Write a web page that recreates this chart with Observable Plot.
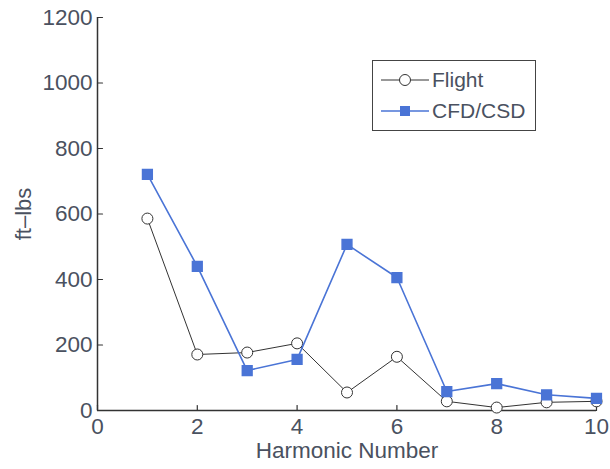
<!DOCTYPE html>
<html>
<head>
<meta charset="utf-8">
<script src="https://cdn.jsdelivr.net/npm/d3@7"></script>
<script src="https://cdn.jsdelivr.net/npm/@observablehq/plot@0.6"></script>
<style>
  body { margin: 0; background: #fff; }
  #wrap { position: relative; width: 610px; height: 469px; font-family: "Liberation Sans", Arial, sans-serif; }
  #legend { position: absolute; left: 372px; top: 60px; width: 164px; height: 71px; border: 1.3px solid #444; background: #fff; box-sizing: border-box; }
  .row { position: absolute; left: 8px; display: flex; align-items: center; font-size: 21px; color: #4a5160; }
  .row svg { margin-right: 3px; }
</style>
</head>
<body>
<div id="wrap"></div>
<script>
const harmonics = [1, 2, 3, 4, 5, 6, 7, 8, 9, 10];
const flight = [586, 171, 177, 205, 55, 164, 28, 9, 25, 28];
const cfd = [721, 440, 122, 156, 507, 406, 58, 82, 48, 37];
const xTicks = [0, 2, 4, 6, 8, 10];
const yTicks = [0, 200, 400, 600, 800, 1000, 1200];

const flightData = harmonics.map((h, i) => ({h, v: flight[i]}));
const cfdData = harmonics.map((h, i) => ({h, v: cfd[i]}));

const textColor = "#4a5160";
const blue = "#4a74d6";
const tickShape = {draw(context, l) { context.moveTo(0, 0); context.lineTo(0, -l); }};

const chart = Plot.plot({
  width: 610,
  height: 469,
  marginLeft: 97,
  marginRight: 14,
  marginTop: 17,
  marginBottom: 59,
  style: {fontFamily: "Liberation Sans, Arial, sans-serif", fontSize: "22px", color: textColor, background: "#fff"},
  x: {domain: [0, 10]},
  y: {domain: [0, 1200]},
  marks: [
    Plot.axisX({ticks: xTicks, tickSize: 0, tickPadding: 8, tickFormat: d => String(d), fill: textColor, label: null, fontSize: 22.5}),
    Plot.axisY({ticks: yTicks, tickSize: 0, tickPadding: 5, tickFormat: d => String(d), fill: textColor, label: null, fontSize: 22.5}),
    Plot.vector(xTicks, {x: d => d, y: 0, length: 5, anchor: "start", rotate: 0, shape: tickShape, stroke: "#333", strokeWidth: 1.2}),
    Plot.vector(yTicks, {x: 0, y: d => d, length: 5, anchor: "start", rotate: 90, shape: tickShape, stroke: "#333", strokeWidth: 1.2}),
    Plot.ruleY([0], {stroke: "#333", strokeWidth: 1.5}),
    Plot.ruleX([0], {stroke: "#333", strokeWidth: 1.5}),
    Plot.line(flightData, {x: "h", y: "v", stroke: "#333", strokeWidth: 1}),
    Plot.dot(flightData, {x: "h", y: "v", r: 5.5, fill: "#fff", stroke: "#333", strokeWidth: 1}),
    Plot.line(cfdData, {x: "h", y: "v", stroke: blue, strokeWidth: 1.6}),
    Plot.dot(cfdData, {x: "h", y: "v", symbol: "square", r: 5.5, fill: blue, stroke: blue}),
    Plot.text(["Harmonic Number"], {frameAnchor: "bottom", dy: 47, fontSize: 22.5, fill: textColor}),
    Plot.text(["ft–lbs"], {frameAnchor: "left", textAnchor: "middle", dx: -74, rotate: -90, fontSize: 22, fill: textColor})
  ]
});

const wrap = document.getElementById("wrap");
wrap.appendChild(chart);

const legend = document.createElement("div");
legend.id = "legend";
legend.innerHTML = `
  <div class="row" style="top:7px"><svg width="48" height="20"><line x1="0" y1="10" x2="48" y2="10" stroke="#333" stroke-width="1"/><circle cx="24" cy="10" r="5.5" fill="#fff" stroke="#333"/></svg>Flight</div>
  <div class="row" style="top:38px"><svg width="48" height="20"><line x1="0" y1="10" x2="48" y2="10" stroke="${blue}" stroke-width="1.6"/><rect x="19" y="5" width="10" height="10" fill="${blue}"/></svg>CFD/CSD</div>
`;
wrap.appendChild(legend);
</script>
</body>
</html>
